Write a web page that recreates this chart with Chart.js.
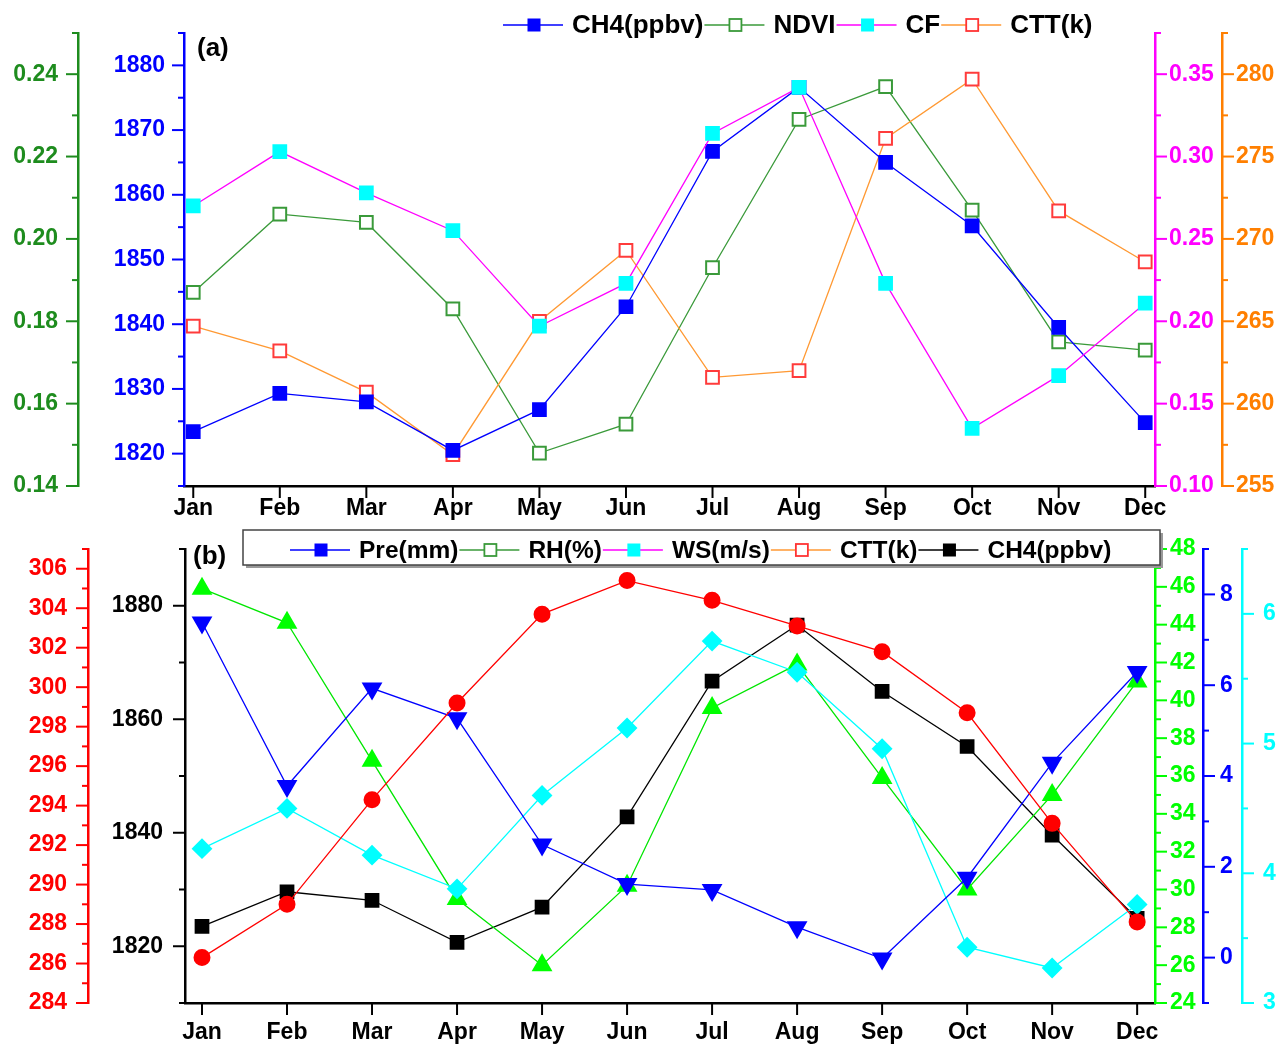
<!DOCTYPE html>
<html>
<head>
<meta charset="utf-8">
<script src="https://cdn.jsdelivr.net/npm/chart.js@4.4.1/dist/chart.umd.min.js"></script>
<style>
  body { margin: 0; background: #fff; }
  #wrap { position: relative; width: 1276px; height: 1044px; }
  canvas { position: absolute; left: 0; }
</style>
</head>
<body>
<div id="wrap">
  <canvas id="chartA" width="1276" height="522" style="top:0"></canvas>
  <canvas id="chartB" width="1276" height="522" style="top:522px"></canvas>
</div>
<script>
const months = ["Jan", "Feb", "Mar", "Apr", "May", "Jun", "Jul", "Aug", "Sep", "Oct", "Nov", "Dec"];

// panel (a)
const ch4A = [1823.4, 1829.3, 1828.0, 1820.5, 1826.8, 1842.7, 1866.7, 1876.6, 1865.0, 1855.2, 1839.5, 1824.8];
const ndvi = [0.187, 0.206, 0.204, 0.183, 0.148, 0.155, 0.193, 0.229, 0.237, 0.207, 0.175, 0.173];
const cf = [0.270, 0.303, 0.278, 0.255, 0.197, 0.223, 0.314, 0.342, 0.223, 0.135, 0.167, 0.211];
const cttA = [264.7, 263.2, 260.7, 256.9, 265.0, 269.3, 261.6, 262.0, 276.1, 279.7, 271.7, 268.6];
const legendA = ["CH4(ppbv)", "NDVI", "CF", "CTT(k)"];

// panel (b)
const pre = [7.38, 3.78, 5.93, 5.27, 2.49, 1.62, 1.49, 0.67, -0.02, 1.76, 4.29, 6.29];
const rh = [45.9, 44.1, 36.8, 29.5, 26.0, 30.2, 39.6, 41.9, 35.9, 30.0, 35.0, 41.0];
const ws = [4.19, 4.50, 4.14, 3.88, 4.60, 5.12, 5.79, 5.55, 4.96, 3.43, 3.27, 3.76];
const cttB = [286.3, 289.0, 294.3, 299.2, 303.7, 305.4, 304.4, 303.1, 301.8, 298.7, 293.1, 288.1];
const ch4B = [1823.5, 1829.6, 1828.1, 1820.7, 1826.9, 1842.8, 1866.7, 1876.6, 1864.9, 1855.2, 1839.6, 1824.9];
const legendB = ["Pre(mm)", "RH(%)", "WS(m/s)", "CTT(k)", "CH4(ppbv)"];

// major (labelled) ticks of each axis
const ndviTicks = [0.14, 0.16, 0.18, 0.20, 0.22, 0.24];
const ch4TicksA = [1820, 1830, 1840, 1850, 1860, 1870, 1880];
const cfTicks = [0.10, 0.15, 0.20, 0.25, 0.30, 0.35];
const cttTicksA = [255, 260, 265, 270, 275, 280];
const cttTicksB = [284, 286, 288, 290, 292, 294, 296, 298, 300, 302, 304, 306];
const ch4TicksB = [1820, 1840, 1860, 1880];
const rhTicks = [24, 26, 28, 30, 32, 34, 36, 38, 40, 42, 44, 46, 48];
const preTicks = [0, 2, 4, 6, 8];
const wsTicks = [3, 4, 5, 6];

const FONT = '"Liberation Sans", Arial, sans-serif';

function pts(arr) {
    return arr.map((v, i) => ({ x: i + 1, y: v }));
}

// y axis with labelled majors and short minor ticks
function yAxis(pos, color, min, max, majors, minorStep, digits, width, weight, pad) {
    return {
        type: 'linear', position: pos, min: min, max: max, weight: weight,
        grid: { drawOnChartArea: false, drawTicks: false },
        border: { display: true, color: color, width: 2.5 },
        afterBuildTicks: function (s) {
            const list = [];
            const n = Math.round((max - min) / minorStep);
            for (let k = 0; k <= n; k++) {
                const v = +(min + k * minorStep).toFixed(6);
                list.push({ value: v, major: majors.some(m => Math.abs(m - v) < 1e-6) });
            }
            s.ticks = list;
        },
        ticks: {
            color: color, autoSkip: false, padding: pad,
            font: { family: FONT, size: 23, weight: 'bold' },
            callback: function (v, i, t) { return t[i].major ? v.toFixed(digits) : ''; }
        },
        afterFit: function (s) {
            s.width = width;
            // labels may spill over the chart edges, like in the original
            s.paddingTop = 0;
            s.paddingBottom = 0;
        }
    };
}

function xAxis(min, max, pad, height) {
    return {
        type: 'linear', position: 'bottom', min: min, max: max,
        grid: { drawOnChartArea: false, drawTicks: false },
        border: { display: true, color: '#000', width: 2.5 },
        afterBuildTicks: function (s) {
            s.ticks = months.map((m, i) => ({ value: i + 1, major: true }));
        },
        ticks: {
            color: '#000', autoSkip: false, maxRotation: 0, padding: pad,
            font: { family: FONT, size: 23, weight: 'bold' },
            callback: function (v) { return months[v - 1]; }
        },
        afterFit: function (s) { s.height = height; }
    };
}

// tick marks drawn outward from each axis line
const tickMarks = {
    id: 'tickMarks',
    afterDraw: function (chart) {
        const ctx = chart.ctx;
        ctx.save();
        ctx.lineWidth = 2;
        Object.values(chart.scales).forEach(s => {
            ctx.strokeStyle = s.options.border.color;
            s.ticks.forEach(t => {
                const len = t.major ? 12 : 6;
                const p = s.getPixelForValue(t.value);
                ctx.beginPath();
                if (s.position === 'left') {
                    ctx.moveTo(s.right, p); ctx.lineTo(s.right - len, p);
                } else if (s.position === 'right') {
                    ctx.moveTo(s.left, p); ctx.lineTo(s.left + len, p);
                } else {
                    ctx.moveTo(p, s.top); ctx.lineTo(p, s.top + len);
                }
                ctx.stroke();
            });
        });
        ctx.restore();
    }
};

// Origin style legend: line - marker - line, then the name
function legendPlugin(names, styles, startX, y, size, tag, tagX, tagY, box) {
    return {
        id: 'originLegend',
        afterDraw: function (chart) {
            const ctx = chart.ctx;
            ctx.save();
            if (box) {
                ctx.fillStyle = '#999';
                ctx.fillRect(box[0] + 3, box[1] + 3, box[2] - box[0], box[3] - box[1]);
                ctx.fillStyle = '#fff';
                ctx.fillRect(box[0], box[1], box[2] - box[0], box[3] - box[1]);
                ctx.strokeStyle = '#444';
                ctx.lineWidth = 1.5;
                ctx.strokeRect(box[0], box[1], box[2] - box[0], box[3] - box[1]);
            }
            ctx.font = 'bold ' + size + 'px ' + FONT;
            ctx.textBaseline = 'middle';
            ctx.textAlign = 'left';
            let x = startX;
            names.forEach((name, i) => {
                const st = styles[i];
                ctx.strokeStyle = st.line;
                ctx.lineWidth = 1.5;
                ctx.beginPath();
                ctx.moveTo(x, y); ctx.lineTo(x + 60, y);
                ctx.stroke();
                const mx = x + 31;
                if (st.open) {
                    ctx.fillStyle = '#fff';
                    ctx.fillRect(mx - 6, y - 6, 12, 12);
                    ctx.strokeStyle = st.mark;
                    ctx.lineWidth = 1.8;
                    ctx.strokeRect(mx - 6, y - 6, 12, 12);
                } else {
                    ctx.fillStyle = st.mark;
                    ctx.fillRect(mx - 6.5, y - 6.5, 13, 13);
                }
                x += 69;
                ctx.fillStyle = '#000';
                ctx.fillText(name, x, y + 1);
                x += ctx.measureText(name).width + 1;
            });
            ctx.font = 'bold 26px ' + FONT;
            ctx.fillText(tag, tagX, tagY);
            ctx.restore();
        }
    };
}

const legendStyleA = [
    { line: '#0000FF', mark: '#0000FF', open: false },
    { line: '#3A9A3A', mark: '#3A9A3A', open: true },
    { line: '#FF00FF', mark: '#00FFFF', open: false },
    { line: '#FF9933', mark: '#FF3333', open: true }
];
const legendStyleB = [
    { line: '#0000FF', mark: '#0000FF', open: false },
    { line: '#3A9A3A', mark: '#3A9A3A', open: true },
    { line: '#FF00FF', mark: '#00FFFF', open: false },
    { line: '#FF9933', mark: '#FF3333', open: true },
    { line: '#000000', mark: '#000000', open: false }
];

function lineSet(label, data, axis, line, fill, stroke, shape, radius, order, rot) {
    return {
        label: label, data: pts(data), yAxisID: axis, order: order,
        borderColor: line, borderWidth: 1.3, fill: false, tension: 0,
        pointStyle: shape, pointRadius: radius, pointRotation: rot || 0,
        pointBackgroundColor: fill, pointBorderColor: stroke, pointBorderWidth: 2,
        clip: false
    };
}

Chart.defaults.font.family = FONT;

new Chart(document.getElementById('chartA'), {
    type: 'line',
    data: {
        datasets: [
            lineSet(legendA[0], ch4A, 'yCh4', '#0000FF', '#0000FF', '#0000FF', 'rect', 9, 1),
            lineSet(legendA[1], ndvi, 'yNdvi', '#3A9A3A', '#FFFFFF', '#3A9A3A', 'rect', 9, 3),
            lineSet(legendA[2], cf, 'yCf', '#FF00FF', '#00FFFF', '#00FFFF', 'rect', 9, 0),
            lineSet(legendA[3], cttA, 'yCtt', '#FF9933', '#FFFFFF', '#FF3B3B', 'rect', 9, 2)
        ]
    },
    options: {
        responsive: false, animation: false, events: [],
        layout: { padding: { top: 33, left: 0, right: 0, bottom: 0 } },
        plugins: { legend: { display: false }, tooltip: { enabled: false } },
        scales: {
            x: xAxis(0.893, 12.113, 9, 36),
            yNdvi: yAxis('left', '#1E8C1E', 0.14, 0.25, ndviTicks, 0.01, 2, 78, 2, 20),
            yCh4: yAxis('left', '#0000FF', 1815, 1885, ch4TicksA, 5, 0, 106, 1, 19),
            yCf: yAxis('right', '#FF00FF', 0.10, 0.375, cfTicks, 0.025, 2, 67, 1, 14),
            yCtt: yAxis('right', '#FF7F00', 255, 282.5, cttTicksA, 2.5, 0, 54, 2, 14)
        }
    },
    plugins: [tickMarks, legendPlugin(legendA, legendStyleA, 503, 25, 26, '(a)', 197, 49, null)]
});

new Chart(document.getElementById('chartB'), {
    type: 'line',
    data: {
        datasets: [
            lineSet(legendB[0], pre, 'yPre', '#0000FF', '#0000FF', '#0000FF', 'triangle', 10, 1, 180),
            lineSet(legendB[1], rh, 'yRh', '#00E600', '#00FF00', '#00FF00', 'triangle', 10, 3),
            lineSet(legendB[2], ws, 'yWs', '#00FFFF', '#00FFFF', '#00FFFF', 'rectRot', 9, 2),
            lineSet(legendB[3], cttB, 'yCtt', '#FF0000', '#FF0000', '#FF0000', 'circle', 7.5, 0),
            lineSet(legendB[4], ch4B, 'yCh4', '#000000', '#000000', '#000000', 'rect', 9, 4)
        ]
    },
    options: {
        responsive: false, animation: false, events: [],
        layout: { padding: { top: 27, left: 0, right: 0, bottom: 0 } },
        plugins: { legend: { display: false }, tooltip: { enabled: false } },
        scales: {
            x: xAxis(0.8, 12.21, 16, 41),
            yCtt: yAxis('left', '#FF0000', 284, 307, cttTicksB, 1, 0, 88, 2, 21),
            yCh4: yAxis('left', '#000000', 1810, 1890, ch4TicksB, 10, 0, 97, 1, 22),
            yRh: yAxis('right', '#00FF00', 24, 48, rhTicks, 1, 0, 48, 1, 15),
            yPre: yAxis('right', '#0000FF', -1, 9, preTicks, 1, 0, 39, 2, 17),
            yWs: yAxis('right', '#00FFFF', 3, 6.5, wsTicks, 0.5, 0, 34, 3, 21)
        }
    },
    plugins: [tickMarks, legendPlugin(legendB, legendStyleB, 290, 28, 24.5, '(b)', 193, 35, [243, 8, 1160, 43])]
});
</script>
</body>
</html>
